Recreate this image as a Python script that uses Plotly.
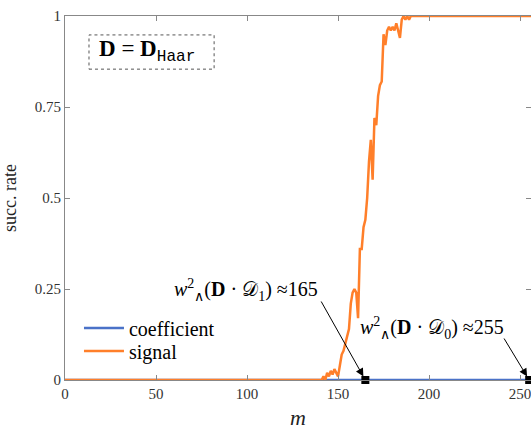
import plotly.graph_objects as go

# ---- data ----
m_coef = [0, 256]
coef = [0, 0]

m_sig = [0, 140, 141, 142, 143, 144, 145, 146, 147, 148, 149, 150, 151, 152, 153, 154,
         155, 156, 157, 158, 159, 160, 161, 162, 163, 164, 165, 166, 167, 168, 169, 170,
         171, 172, 173, 174, 175, 176, 177, 178, 179, 180, 181, 182, 183, 184, 185, 186,
         187, 188, 189, 190, 191, 256]
sig = [0, 0, 0.0, 0.01, 0.0, 0.02, 0.01, 0.025, 0.015, 0.03, 0.02, 0.01, 0.04, 0.07, 0.08, 0.10,
       0.12, 0.14, 0.21, 0.24, 0.25, 0.24, 0.17, 0.36, 0.36, 0.42, 0.44, 0.50, 0.60, 0.66, 0.55, 0.72,
       0.70, 0.78, 0.81, 0.82, 0.95, 0.92, 0.96, 0.97, 0.96, 0.97, 0.96, 0.98, 0.96, 0.94, 0.99, 1.0,
       0.99, 1.0, 0.99, 1.0, 1.0, 1.0]

mark_x = [165, 255]
mark_y = [0, 0]

x_ticks = [0, 50, 100, 150, 200, 250]
y_ticks = [0, 0.25, 0.5, 0.75, 1]
y_tick_text = ["0", "0.25", "0.5", "0.75", "1"]

BLUE = "#4A72C8"
ORANGE = "#FF7F2A"
FONT = "Liberation Serif"

fig = go.Figure()
fig.add_trace(go.Scatter(x=m_coef, y=coef, mode="lines", name="coefficient",
                         line=dict(color=BLUE, width=2.5), legend="legend"))
fig.add_trace(go.Scatter(x=m_sig, y=sig, mode="lines", name="signal",
                         line=dict(color=ORANGE, width=2.5), legend="legend2"))
fig.add_trace(go.Scatter(x=mark_x, y=mark_y, mode="markers", showlegend=False,
                         marker=dict(symbol="square", size=8, color="black"),
                         cliponaxis=False))

ann_font = dict(family=FONT, size=20, color="black")
# text labels
fig.add_annotation(x=99.5, y=0.248, xref="x", yref="y", showarrow=False, font=ann_font,
                   text="<i>w</i><sup>2</sup><sub>∧</sub>(<b>D</b> · 𝒟<sub>1</sub>) ≈165")
fig.add_annotation(x=201.5, y=0.142, xref="x", yref="y", showarrow=False, font=ann_font,
                   text="<i>w</i><sup>2</sup><sub>∧</sub>(<b>D</b> · 𝒟<sub>0</sub>) ≈255")
# arrows
fig.add_annotation(x=mark_x[0], y=0, xref="x", yref="y", text="", showarrow=True,
                   ax=-45, ay=-80, arrowhead=2, arrowsize=1.6, arrowwidth=1,
                   arrowcolor="black", standoff=4)
fig.add_annotation(x=mark_x[1], y=0, xref="x", yref="y", text="", showarrow=True,
                   ax=-26, ay=-43, arrowhead=2, arrowsize=1.6, arrowwidth=1,
                   arrowcolor="black", standoff=4)
# D = D_Haar box (dashed)
fig.add_shape(type="rect", xref="paper", yref="paper", x0=0.0515, x1=0.32, y0=0.854, y1=0.948,
              line=dict(color="#555555", width=1, dash="dot"), fillcolor="white", layer="above")
fig.add_annotation(x=0.176, y=0.903, xref="paper", yref="paper", showarrow=False,
                   xanchor="center", yanchor="middle",
                   text="<b>D</b> = <b>D</b><sub><span style='font-family:Liberation Mono'>Haar</span></sub>",
                   font=dict(family=FONT, size=23, color="black"))

axis_common = dict(showline=True, linecolor="#888888", linewidth=1, mirror="ticks",
                   ticks="inside", ticklen=5, tickcolor="#888888", showgrid=False,
                   zeroline=False, automargin=False, ticklabeloverflow="allow",
                   tickfont=dict(family=FONT, size=15, color="#333333"))

leg_common = dict(xanchor="left", yanchor="middle", bgcolor="rgba(0,0,0,0)",
                  font=dict(family=FONT, size=20, color="black"), itemwidth=40)

fig.update_layout(
    width=531, height=432,
    margin=dict(l=65, r=0, t=16, b=52),
    paper_bgcolor="white", plot_bgcolor="white",
    xaxis=dict(range=[0, 256], tickvals=x_ticks,
               title=dict(text="<i>m</i>", font=dict(family=FONT, size=22, color="#222222"), standoff=8),
               **axis_common),
    yaxis=dict(range=[0, 1], tickvals=y_ticks, ticktext=y_tick_text,
               title=dict(text="succ. rate", font=dict(family=FONT, size=18, color="#222222"), standoff=18),
               **axis_common),
    legend=dict(x=0.03, y=0.143, **leg_common),
    legend2=dict(x=0.03, y=0.080, **leg_common),
    showlegend=True,
)

fig.write_html("out.html", config={"displayModeBar": False},
               post_script="document.body.style.margin='0';document.body.style.overflow='hidden';")
